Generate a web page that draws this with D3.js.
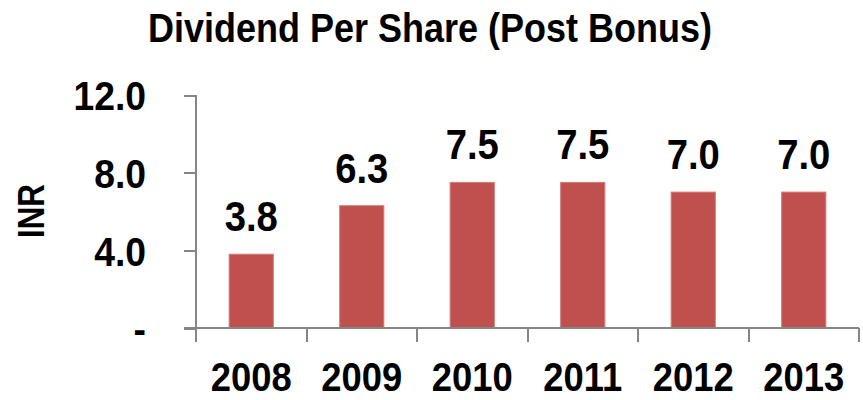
<!DOCTYPE html>
<html lang="en">
<head>
    <title>Dividend Per Share</title>
    <style>
        body { margin: 0; background: #fff; }
        svg text {
            font-family: "Liberation Sans", Arial, sans-serif;
            font-weight: bold;
            fill: #000;
        }
        .axis path, .axis line {
            fill: none;
            stroke: #868686;
            stroke-width: 2;
            shape-rendering: crispEdges;
        }
    </style>
    <script src="https://d3js.org/d3.v7.min.js"></script>
</head>
<body>
<svg></svg>
<script>
    const years = ['2008', '2009', '2010', '2011', '2012', '2013'];
    const dps = [3.8, 6.3, 7.5, 7.5, 7.0, 7.0];
    const yTicks = [0, 4, 8, 12];

    const width = 863;
    const height = 400;
    // the reference font is a narrow face, so squeeze the text a bit
    const squeeze = 0.91;

    const svg = d3.select('svg').attr('width', width).attr('height', height);

    const x = d3.scaleBand()
        .domain(years)
        .range([196, 859])
        .paddingInner(0.6)
        .paddingOuter(0.3);

    const y = d3.scaleLinear()
        .domain([0, 12])
        .range([328, 95]);

    const fmt = d3.format('.1f');

    // y axis
    const yAxis = d3.axisLeft(y)
        .tickValues(yTicks)
        .tickSize(12)
        .tickFormat(d => d === 0 ? '-' : fmt(d));

    svg.append('g')
        .attr('class', 'axis')
        .attr('transform', 'translate(196,0)')
        .call(yAxis)
        .call(g => g.select('.domain').attr('d', 'M-12,95.5H0V328'))
        .selectAll('text')
        .attr('x', 0)
        .attr('dy', '0.36em')
        .attr('transform', `translate(-50,0) scale(${squeeze},1)`)
        .style('font-size', '41px');

    // bars
    svg.selectAll('.bar')
        .data(dps)
        .enter().append('rect')
        .attr('class', 'bar')
        .attr('x', (d, i) => x(years[i]))
        .attr('y', d => y(d))
        .attr('width', x.bandwidth())
        .attr('height', d => y(0) - y(d))
        .attr('fill', '#C0504D')
        .attr('stroke', '#d27d7a')
        .attr('stroke-width', 1);

    // x axis, ticks between categories
    const xg = svg.append('g').attr('class', 'axis');
    const bounds = d3.range(years.length + 1).map(i => 196 + i * x.step());
    xg.append('path').attr('d', `M184,${y(0)}H${bounds[bounds.length - 1]}`);
    xg.selectAll('line')
        .data(bounds)
        .enter().append('line')
        .attr('x1', d => d).attr('x2', d => d)
        .attr('y1', y(0)).attr('y2', y(0) + 14);

    svg.selectAll('.xlabel')
        .data(years)
        .enter().append('text')
        .attr('class', 'xlabel')
        .attr('transform', d => `translate(${x(d) + x.bandwidth() / 2},391) scale(${squeeze},1)`)
        .attr('text-anchor', 'middle')
        .style('font-size', '40px')
        .text(d => d);

    // value labels
    svg.selectAll('.vlabel')
        .data(dps)
        .enter().append('text')
        .attr('class', 'vlabel')
        .attr('transform', (d, i) => `translate(${x(years[i]) + x.bandwidth() / 2},${y(d) - 23}) scale(${squeeze},1)`)
        .attr('text-anchor', 'middle')
        .style('font-size', '42px')
        .text(d => fmt(d));

    // y title
    svg.append('text')
        .attr('transform', 'translate(44,211) rotate(-90) scale(0.87,1)')
        .attr('text-anchor', 'middle')
        .style('font-size', '36px')
        .text('INR');

    // chart title
    svg.append('text')
        .attr('transform', 'translate(430,41.5) scale(0.9,1)')
        .attr('text-anchor', 'middle')
        .style('font-size', '40px')
        .text('Dividend Per Share (Post Bonus)');
</script>
</body>
</html>
